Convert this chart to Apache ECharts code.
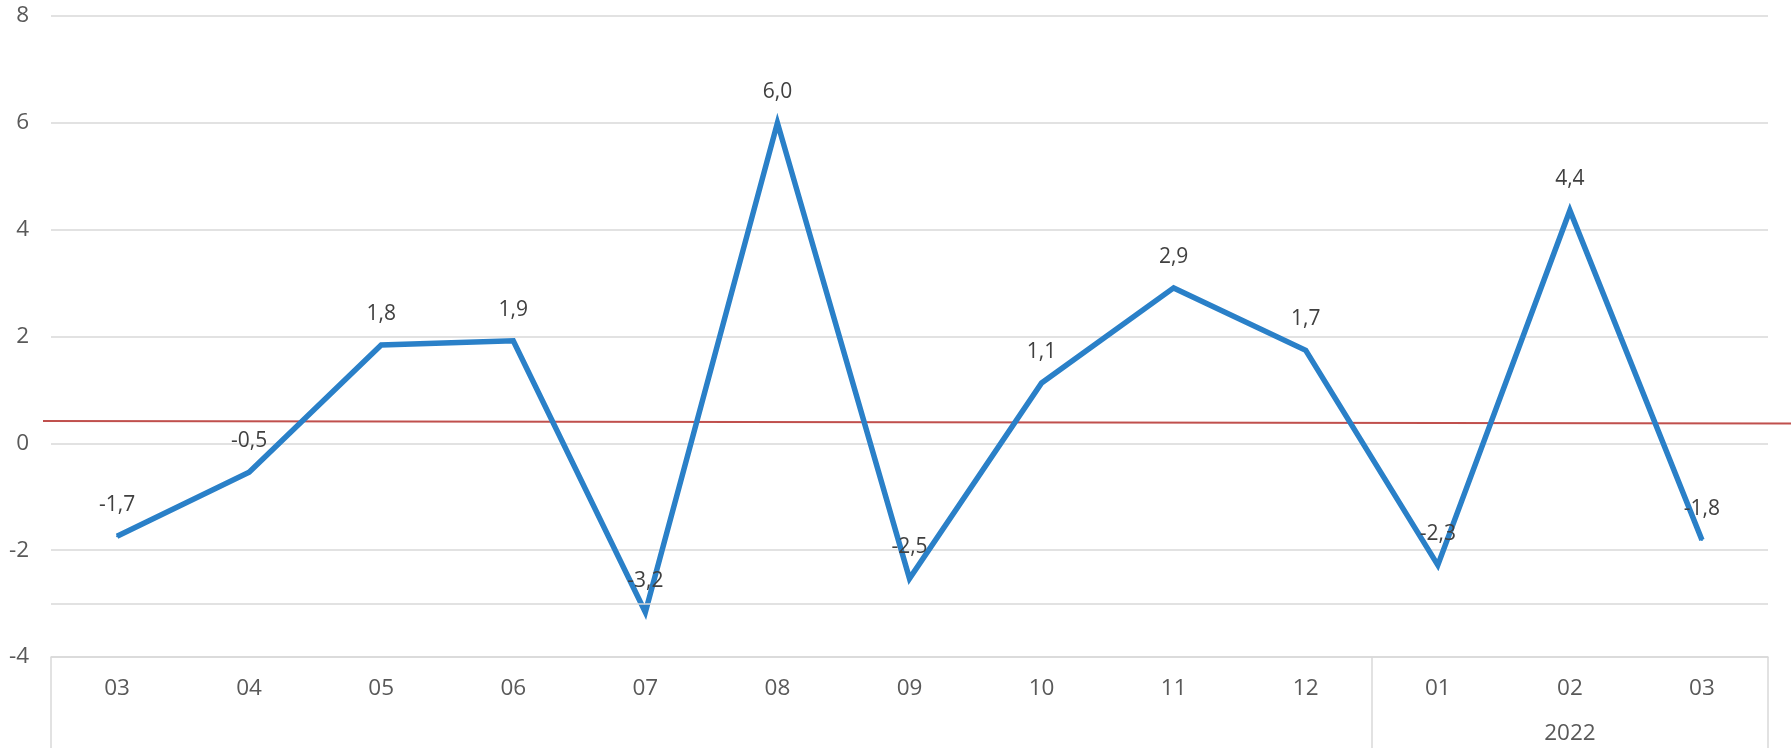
<!DOCTYPE html>
<html>
<head>
<meta charset="utf-8">
<script src="https://cdn.jsdelivr.net/npm/echarts@6/dist/echarts.min.js"></script>
<style>
html,body{margin:0;padding:0;background:#fff;}
#chart{width:1791px;height:748px;}
</style>
</head>
<body>
<div id="chart"></div>
<script>
const months = ['03','04','05','06','07','08','09','10','11','12','01','02','03'];
const yearRow = ['','','','','','','','','','','','2022',''];
const values = [-1.74, -0.54, 1.84, 1.92, -3.16, 6.0, -2.53, 1.13, 2.91, 1.74, -2.28, 4.36, -1.81];
const yearStartIndex = [0, 10];
const yTicks = {min: -4, max: 8, interval: 2};
const extraGridValue = -3;
const trendStart = 0.42;
const trendEnd = 0.37;

const FONT = '"Open Sans"';
const grey = '#d9d9d9';

const chart = echarts.init(document.getElementById('chart'), null, {renderer: 'canvas'});
const option = {
  animation: false,
  backgroundColor: '#ffffff',
  grid: [
    {left: 51, right: 23, top: 16, bottom: 91, containLabel: false, outerBoundsMode: 'none'},
    {left: 43, right: 0, top: 16, bottom: 91, containLabel: false, outerBoundsMode: 'none'}
  ],
  xAxis: [
    {
      type: 'category', gridIndex: 0, data: months, boundaryGap: true,
      axisLine: {show: true, onZero: false, lineStyle: {color: grey, width: 1.5}},
      axisTick: {
        show: true, inside: false, length: 91, lineStyle: {color: grey, width: 1.5},
        interval: function (idx) { return yearStartIndex.indexOf(idx) >= 0; }
      },
      axisLabel: {
        interval: 0, margin: 9, color: '#595959', fontFamily: FONT, fontSize: 22.5, lineHeight: 45,
        formatter: function (v, i) { return yearRow[i] ? v + '\n' + yearRow[i] : v; }
      },
      splitLine: {show: false}
    },
    {type: 'value', gridIndex: 1, min: 0, max: 1, show: false}
  ],
  yAxis: [
    {
      type: 'value', gridIndex: 0, min: yTicks.min, max: yTicks.max, interval: yTicks.interval,
      axisLine: {show: false}, axisTick: {show: false},
      axisLabel: {margin: 22, color: '#595959', fontFamily: FONT, fontSize: 22.5},
      splitLine: {show: true, lineStyle: {color: grey, width: 1.5}}
    },
    {type: 'value', gridIndex: 1, min: yTicks.min, max: yTicks.max, show: false}
  ],
  series: [
    {
      type: 'line', xAxisIndex: 1, yAxisIndex: 1, data: [[0, trendStart], [1, trendEnd]],
      symbol: 'none', silent: true, z: 1,
      lineStyle: {color: '#c0504d', width: 2}
    },
    {
      type: 'line', xAxisIndex: 0, yAxisIndex: 0, data: values, z: 3,
      symbol: 'circle', symbolSize: 2, showSymbol: true,
      itemStyle: {color: '#2a80c8'},
      lineStyle: {color: '#2a80c8', width: 5.5, join: 'miter'},
      label: {
        show: true, position: 'top', distance: 19, color: '#404040', fontFamily: FONT, fontSize: 21, lineHeight: 22,
        formatter: function (p) { return p.value.toFixed(1).replace('.', ','); }
      },
      markLine: {
        silent: true, symbol: 'none', label: {show: false},
        lineStyle: {color: grey, width: 1.5, type: 'solid'},
        data: [{yAxis: extraGridValue}]
      }
    }
  ]
};
chart.setOption(option);
</script>
</body>
</html>
